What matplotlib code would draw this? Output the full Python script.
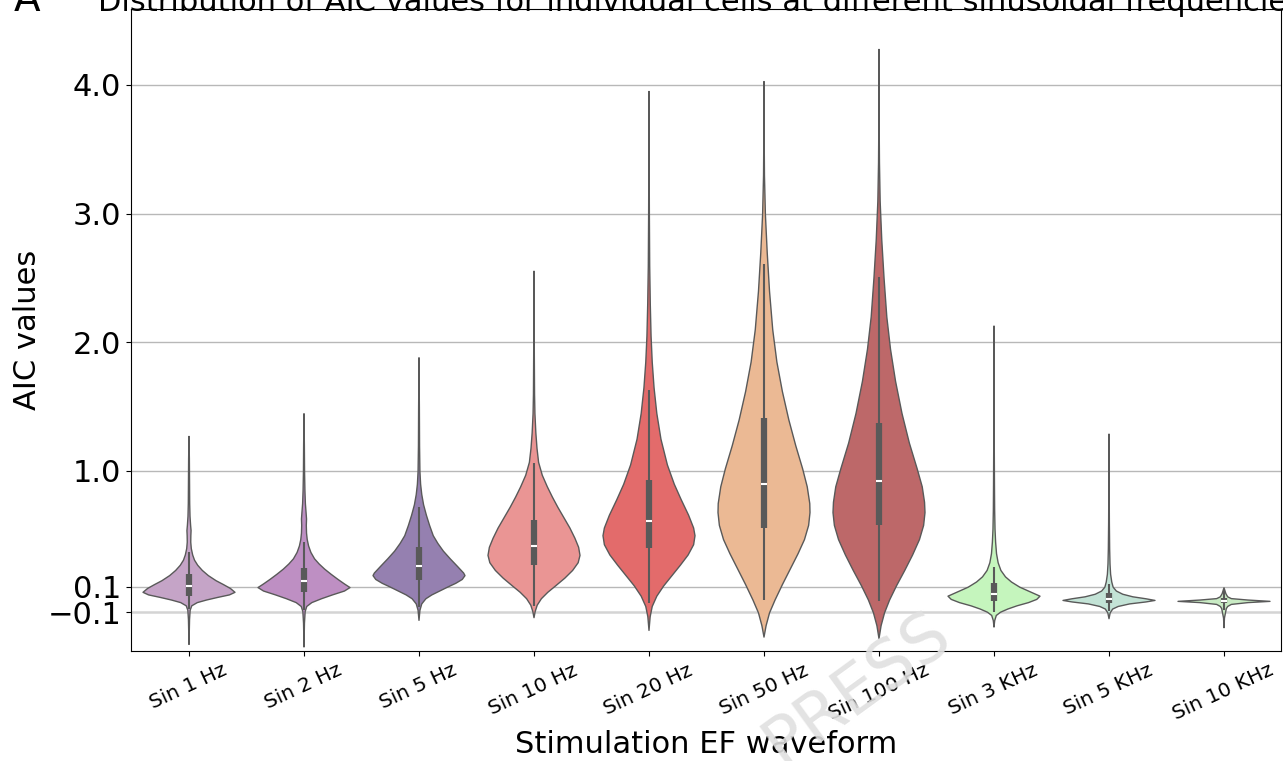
import matplotlib
matplotlib.use("Agg")
import matplotlib.pyplot as plt
import numpy as np

# ---------------- data ----------------
categories = ["Sin 1 Hz", "Sin 2 Hz", "Sin 5 Hz", "Sin 10 Hz", "Sin 20 Hz",
              "Sin 50 Hz", "Sin 100 Hz", "Sin 3 KHz", "Sin 5 KHz", "Sin 10 KHz"]
colors = ["#c5a4c7", "#be8fc3", "#9580b0", "#ea9594", "#e36b6b",
          "#ebb994", "#bd6869", "#c5f5bd", "#c3e3d6", "#c9ebc4"]

# density profiles: AIC value -> relative half width
sin1_y = [1.272, 1.10, 0.90, 0.75, 0.65, 0.58, 0.54, 0.50, 0.45, 0.40, 0.35, 0.31, 0.27, 0.23, 0.19,
          0.15, 0.12, 0.09, 0.06, 0.04, 0.02, 0.00, -0.02, -0.045, -0.08, -0.15, -0.25, -0.345]
sin1_w = [0.0, 0.008, 0.012, 0.015, 0.022, 0.035, 0.045, 0.04, 0.038, 0.05, 0.08, 0.12, 0.19, 0.29, 0.42,
          0.59, 0.75, 0.90, 1.0, 0.88, 0.62, 0.38, 0.18, 0.06, 0.025, 0.012, 0.006, 0.0]
sin2_y = [1.448, 1.20, 1.00, 0.85, 0.75, 0.68, 0.63, 0.58, 0.52, 0.47, 0.42, 0.37, 0.32, 0.28, 0.24,
          0.20, 0.16, 0.125, 0.097, 0.07, 0.04, 0.01, -0.02, -0.05, -0.09, -0.18, -0.365]
sin2_w = [0.0, 0.008, 0.012, 0.02, 0.03, 0.045, 0.055, 0.05, 0.055, 0.07, 0.10, 0.15, 0.23, 0.33, 0.45,
          0.59, 0.74, 0.88, 1.0, 0.88, 0.62, 0.38, 0.17, 0.06, 0.025, 0.01, 0.0]
sin5_y = [1.883, 1.50, 1.20, 1.00, 0.90, 0.82, 0.74, 0.66, 0.58, 0.50, 0.44, 0.38, 0.32, 0.26, 0.21,
          0.19, 0.16, 0.13, 0.10, 0.07, 0.04, 0.01, -0.03, -0.08, -0.158]
sin5_w = [0.0, 0.008, 0.012, 0.02, 0.035, 0.06, 0.10, 0.16, 0.23, 0.31, 0.41, 0.53, 0.68, 0.84, 0.97,
          1.0, 0.94, 0.80, 0.62, 0.45, 0.28, 0.15, 0.06, 0.02, 0.0]
sin10_y = [2.556, 2.20, 1.90, 1.60, 1.45, 1.30, 1.18, 1.07, 0.97, 0.88, 0.80, 0.72, 0.64, 0.56, 0.48,
           0.41, 0.347, 0.29, 0.23, 0.17, 0.11, 0.06, 0.01, -0.04, -0.09, -0.137]
sin10_w = [0.0, 0.004, 0.007, 0.012, 0.02, 0.04, 0.065, 0.10, 0.18, 0.29, 0.40, 0.52, 0.65, 0.78, 0.89,
           0.97, 1.0, 0.96, 0.84, 0.67, 0.47, 0.30, 0.16, 0.07, 0.025, 0.0]
sin20_y = [3.953, 3.40, 3.00, 2.60, 2.30, 2.05, 1.85, 1.65, 1.45, 1.25, 1.05, 0.90, 0.78, 0.66, 0.56,
           0.50, 0.43, 0.35, 0.27, 0.19, 0.11, 0.03, -0.05, -0.13, -0.236]
sin20_w = [0.0, 0.004, 0.008, 0.015, 0.028, 0.045, 0.07, 0.11, 0.17, 0.26, 0.40, 0.55, 0.70, 0.86, 0.97,
           1.0, 0.97, 0.85, 0.68, 0.50, 0.32, 0.17, 0.07, 0.025, 0.0]
sin50_y = [4.03, 3.60, 3.30, 3.00, 2.70, 2.40, 2.10, 1.85, 1.62, 1.40, 1.20, 1.02, 0.88, 0.75, 0.68,
           0.58, 0.47, 0.36, 0.24, 0.12, 0.00, -0.10, -0.20, -0.288]
sin50_w = [0.0, 0.004, 0.01, 0.03, 0.07, 0.12, 0.19, 0.28, 0.40, 0.54, 0.69, 0.84, 0.94, 0.995, 1.0,
           0.97, 0.88, 0.74, 0.57, 0.40, 0.24, 0.12, 0.045, 0.0]
sin100_y = [4.28, 3.70, 3.40, 3.10, 2.80, 2.50, 2.20, 1.95, 1.70, 1.45, 1.22, 1.02, 0.88, 0.76, 0.68,
            0.58, 0.47, 0.35, 0.23, 0.11, 0.00, -0.10, -0.20, -0.30]
sin100_w = [0.0, 0.004, 0.01, 0.025, 0.06, 0.11, 0.17, 0.25, 0.36, 0.50, 0.66, 0.83, 0.94, 0.99, 1.0,
            0.97, 0.88, 0.73, 0.56, 0.38, 0.23, 0.12, 0.045, 0.0]
sin3k_y = [2.13, 1.60, 1.20, 0.90, 0.70, 0.55, 0.45, 0.36, 0.29, 0.23, 0.18, 0.14, 0.10, 0.065, 0.03,
           0.005, -0.02, -0.045, -0.07, -0.095, -0.12, -0.16, -0.21]
sin3k_w = [0.0, 0.004, 0.006, 0.01, 0.014, 0.022, 0.035, 0.055, 0.09, 0.15, 0.25, 0.38, 0.56, 0.78, 1.0,
           0.93, 0.75, 0.50, 0.30, 0.14, 0.05, 0.015, 0.0]
sin5k_y = [1.29, 0.90, 0.60, 0.40, 0.28, 0.20, 0.14, 0.10, 0.07, 0.045, 0.025, 0.01, -0.003,
           -0.015, -0.03, -0.05, -0.07, -0.10, -0.145]
sin5k_w = [0.0, 0.004, 0.008, 0.014, 0.022, 0.035, 0.06, 0.09, 0.16, 0.30, 0.52, 0.80, 1.0,
           0.80, 0.45, 0.20, 0.08, 0.025, 0.0]
sin10k_y = [0.095, 0.05, 0.025, 0.011, 0.0, -0.0103, -0.02, -0.034, -0.05, -0.067, -0.14, -0.215]
sin10k_w = [0.0, 0.04, 0.08, 0.16, 0.52, 1.0, 0.52, 0.16, 0.08, 0.05, 0.01, 0.0]

# inner box statistics
q1 = [0.031, 0.062, 0.153, 0.270, 0.403, 0.558, 0.576, -0.012, -0.028, -0.030]
median = [0.107, 0.144, 0.257, 0.417, 0.611, 0.900, 0.920, 0.040, 0.005, -0.008]
q3 = [0.200, 0.247, 0.412, 0.619, 0.930, 1.413, 1.370, 0.128, 0.050, 0.012]
whisker_lo = [-0.07, -0.08, -0.06, -0.05, -0.03, -0.003, -0.009, -0.10, -0.09, -0.08]
whisker_hi = [0.373, 0.445, 0.723, 1.060, 1.630, 2.610, 2.510, 0.250, 0.120, 0.080]

y_ticks = [-0.1, 0.1, 1.0, 2.0, 3.0, 4.0]

profiles_y = [sin1_y, sin2_y, sin5_y, sin10_y, sin20_y, sin50_y, sin100_y, sin3k_y, sin5k_y, sin10k_y]
profiles_w = [sin1_w, sin2_w, sin5_w, sin10_w, sin20_w, sin50_w, sin100_w, sin3k_w, sin5k_w, sin10k_w]

# ---------------- figure ----------------
fig = plt.figure(figsize=(12.83, 7.61), dpi=100)
ax = fig.add_axes([131 / 1283, 1 - 651 / 761, 1150 / 1283, 642 / 761])

positions = np.arange(len(categories))
vpstats = []
for ys, ws, med in zip(profiles_y, profiles_w, median):
    ys = np.asarray(ys, float)
    order = np.argsort(ys)
    vpstats.append(dict(coords=ys[order], vals=np.asarray(ws, float)[order],
                        mean=med, median=med, min=ys.min(), max=ys.max()))

parts = ax.violin(vpstats, positions=positions, widths=0.8,
                  showmeans=False, showextrema=False, showmedians=False)
line_col = "#595959"
for body, c in zip(parts["bodies"], colors):
    body.set_facecolor(c)
    body.set_edgecolor(line_col)
    body.set_linewidth(1.0)
    body.set_alpha(1)
    body.set_zorder(2)
    body.set_joinstyle("round")

# inner box
ax.vlines(positions, whisker_lo, whisker_hi, color=line_col, lw=1.5, zorder=3)
ax.vlines(positions, q1, q3, color=line_col, lw=4.5, zorder=3)
ax.scatter(positions, median, marker="_", s=22, color="white", linewidths=1.5, zorder=4)

ax.set_xlim(-0.5, len(categories) - 0.5)
ax.set_ylim(-0.40, 4.59)
ax.set_yticks(y_ticks)
ax.set_xticks(positions)
ax.set_xticklabels(categories, rotation=25, fontsize=14.5)
ax.tick_params(axis="y", labelsize=22)
ax.yaxis.grid(True, color="#b8b8b8", lw=1.0)
ax.set_axisbelow(True)
gl = ax.get_ygridlines()
gl[0].set_color("#d4d4d4")
gl[0].set_linewidth(1.8)

ax.set_ylabel("AIC values", fontsize=22)
ax.set_xlabel("Stimulation EF waveform", fontsize=22)

fig.text(14 / 1283, 1 - 11 / 761, "A", fontsize=28, ha="left", va="baseline")
fig.text(98 / 1283, 1 - 11 / 761,
         "Distribution of AIC values for individual cells at different sinusoidal frequencies",
         fontsize=22, ha="left", va="baseline")

# faint watermark
fig.text(857 / 1283, 1 - 688 / 761, "PRESS", fontsize=48, color="#e0e0e0",
         rotation=36, ha="center", va="center", zorder=5, alpha=0.9)

fig.savefig("out.png", dpi=100)
